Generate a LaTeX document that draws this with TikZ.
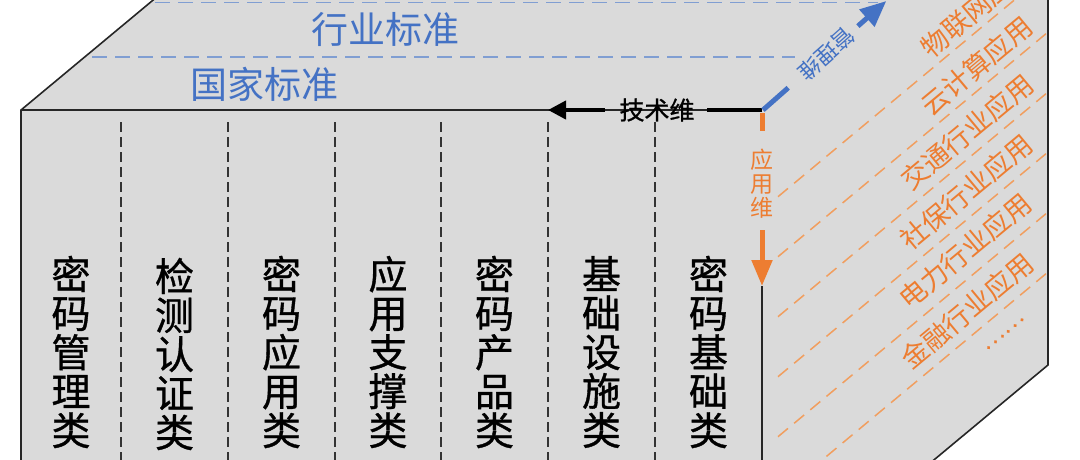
\documentclass[tikz,border=0pt]{standalone}
\usepackage{fontspec}
\newfontfamily\cjk{Noto Sans CJK SC}
\newfontfamily\cjkb{Noto Sans CJK SC}[FakeBold=0.9]
\usetikzlibrary{arrows.meta}
\definecolor{facegray}{RGB}{218,218,218}
\definecolor{myblue}{RGB}{68,114,196}
\definecolor{lblue}{RGB}{128,158,210}
\definecolor{myorange}{RGB}{237,125,49}
\definecolor{lorange}{RGB}{241,158,95}
\begin{document}
\begin{tikzpicture}[x=1pt,y=-1pt,
  edge/.style={draw=black!85, line width=1.6pt},
  sepline/.style={draw=black!80, line width=1.4pt, dash pattern=on 10pt off 5pt},
  stdline/.style={draw=lblue, line width=1.5pt, dash pattern=on 15pt off 8pt},
  appline/.style={draw=lorange, line width=1.5pt, dash pattern=on 13pt off 8pt},
  coltext/.style={font=\cjkb\fontsize{39}{39}\selectfont, align=center, inner sep=0pt},
  apptext/.style={font=\cjk\fontsize{27}{27}\selectfont, text=myorange, rotate=39.8, inner sep=0pt},
  stdtext/.style={font=\cjk\fontsize{37}{37}\selectfont, text=myblue, inner sep=0pt},
]
\useasboundingbox (0,0) rectangle (1080,459);
\clip (0,0) rectangle (1080,459);
% faces
\fill[facegray] (21,620) -- (21,110) -- (307,-128) -- (1048,-128) -- (1048,365) -- (762,603) -- (762,620) -- cycle;
% outline
\draw[edge] (21,620) -- (21,110) -- (307,-128);
\draw[edge] (21,110) -- (762,110);
\draw[edge] (1048,-128) -- (1048,365) -- (762,603);
\coordinate (append) at (762,286);
\coordinate (frontbottom) at (762,620);
\draw[edge] (append) -- (frontbottom);
% separators
\foreach \x in {121,228,335,441,548,655} \draw[sepline] (\x,122) -- (\x,470);
% column labels
\node[coltext] (c1) at (71,352) {密\\码\\管\\理\\类};
\node[coltext] (c2) at (174.5,354) {检\\测\\认\\证\\类};
\node[coltext] (c3) at (281.5,352) {密\\码\\应\\用\\类};
\node[coltext] (c4) at (388,352) {应\\用\\支\\撑\\类};
\node[coltext] (c5) at (494.5,352) {密\\码\\产\\品\\类};
\node[coltext] (c6) at (601.5,352) {基\\础\\设\\施\\类};
\node[coltext] (c7) at (708.5,352) {密\\码\\基\\础\\类};
% standards on top face
\draw[stdline] (155,2.5) -- (878,2.5);
\draw[stdline] (92,57) -- (795,57);
\node[stdtext] (hy) at (385,29) {行业标准};
\node[stdtext] (gj) at (264,84) {国家标准};
% technical axis
\coordinate (C) at (762,110);
\coordinate (techR) at (707,110);
\coordinate (techL) at (605,110);
\coordinate (techtip) at (548,110);
\node[font=\cjkb\fontsize{25}{25}\selectfont, inner sep=0pt] (tech) at (657,110) {技术维};
\draw[black, line width=4pt] (C) -- (techR);
\draw[black, line width=4pt, -{Triangle[length=18pt,width=18pt]}] (techL) -- (techtip);
% application axis
\coordinate (appA) at (762,113);
\coordinate (appB) at (762,131);
\coordinate (appS) at (762,230);
\draw[myorange, line width=5pt] (appA) -- (appB);
\node[font=\cjk\fontsize{23}{24}\selectfont, text=myorange, align=center, inner sep=0pt] (appax) at (762,184) {应\\用\\维};
\draw[myorange, line width=5pt, -{Triangle[length=26pt,width=20pt]}] (appS) -- (append);
% management axis
\coordinate (mgA) at (763,110);
\coordinate (mgB) at (788.2,87.8);
\coordinate (mgS) at (857.9,26.1);
\coordinate (mgtip) at (886.3,1.0);
\draw[myblue, line width=5pt] (mgA) -- (mgB);
\node[font=\cjk\fontsize{22}{22}\selectfont, text=myblue, rotate=221.5, inner sep=0pt] (mgax) at (826.4,54) {管理维};
\draw[myblue, line width=5pt, -{Triangle[length=26pt,width=22pt]}] (mgS) -- (mgtip);
% application lines
\foreach \y in {210,270,330,390,450,510} \draw[appline] (778,\y-13.3) -- (1046,\y-236.3);
\node[apptext] (a1) at (977,8) {物联网应用};
\node[apptext] (a2) at (977,66) {云计算应用};
\node[apptext] (a3) at (967,132) {交通行业应用};
\node[apptext] (a4) at (966,192) {社保行业应用};
\node[apptext] (a5) at (965,251) {电力行业应用};
\node[apptext] (a6) at (967,311) {金融行业应用};
\node[apptext, font=\cjkb\fontsize{24}{24}\selectfont] (a7) at (1005,334) {……};
\end{tikzpicture}
\end{document}
